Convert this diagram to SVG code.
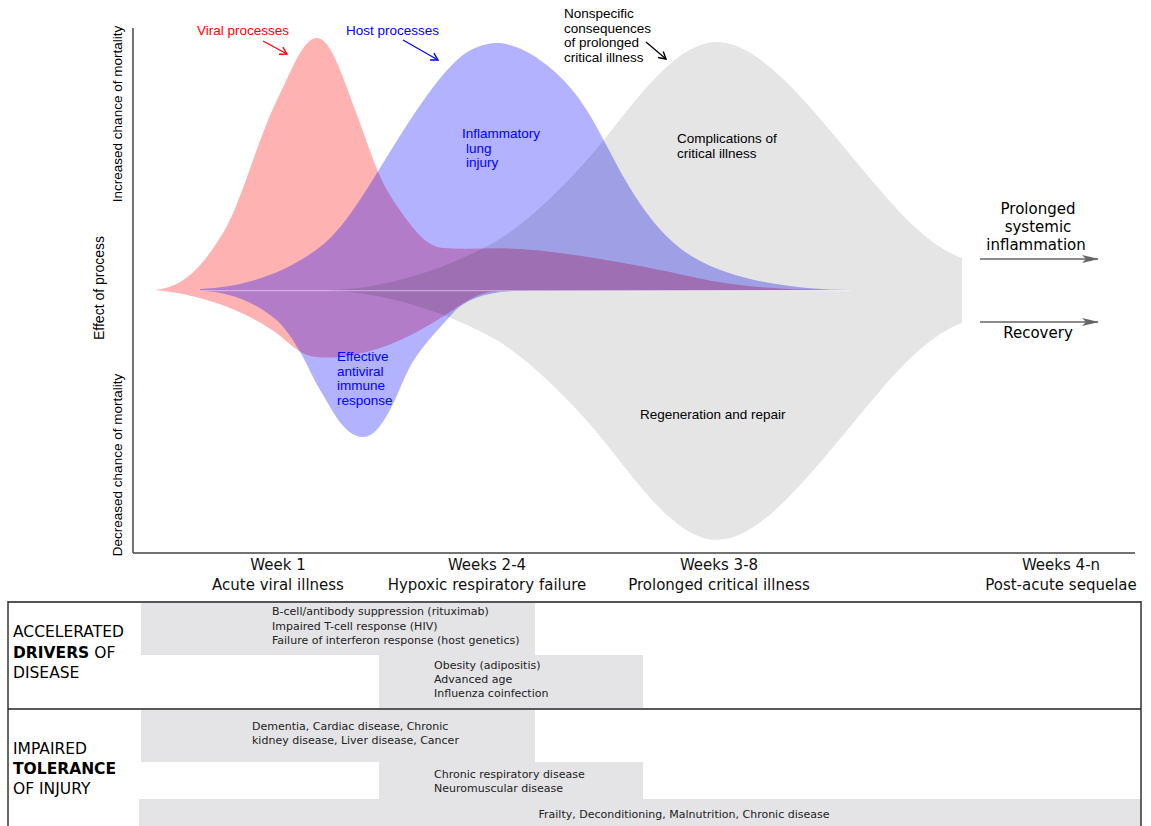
<svg xmlns="http://www.w3.org/2000/svg" width="1151" height="826" viewBox="0 0 1151 826">
<defs>
<marker id="vee-red" markerWidth="10" markerHeight="10" refX="8" refY="5" orient="auto" markerUnits="userSpaceOnUse"><path d="M1,1 L8,5 L1,9" fill="none" stroke="#ff0000" stroke-width="1.4"/></marker>
<marker id="vee-blue" markerWidth="10" markerHeight="10" refX="8" refY="5" orient="auto" markerUnits="userSpaceOnUse"><path d="M1,1 L8,5 L1,9" fill="none" stroke="#0000ff" stroke-width="1.4"/></marker>
<marker id="vee-black" markerWidth="10" markerHeight="10" refX="8" refY="5" orient="auto" markerUnits="userSpaceOnUse"><path d="M1,1 L8,5 L1,9" fill="none" stroke="#000" stroke-width="1.4"/></marker>
<marker id="tri-gray" markerWidth="18" markerHeight="10" refX="16" refY="5" orient="auto" markerUnits="userSpaceOnUse"><path d="M0,1 L17,5 L0,9 L4,5 Z" fill="#666"/></marker>
</defs>
<style>
.ann{font-family:"Liberation Sans",Arial,sans-serif;font-size:13.5px}
.ax{font-family:"DejaVu Sans",Verdana,sans-serif;font-size:15px;fill:#111}
.tb{font-family:"DejaVu Sans",Verdana,sans-serif;font-size:11px;fill:#222}
.lab{font-family:"DejaVu Sans",Verdana,sans-serif;font-size:15.5px;fill:#000}
.box{fill:#e4e4e6}
.axis{stroke:#444;stroke-width:1.5;fill:none}
</style>
<rect width="1151" height="826" fill="#fff"/>

<g id="viral-curve">
<path fill="#ff0000" fill-opacity="0.3" d="M153,290 C185,289 205,262 223,233 C241,204 258,138 277,100 C292,70 303,38 317,38 C331,38 343,78 357,115 C369,147 378,178 393,200 C410,225 425,247 443,248 C470,250 495,247 520,249 C560,251 640,265 693,277 C745,289 800,290 848,290 L500,291 C480,291 465,302 450,312 C430,325 405,340 380,348 C355,356 335,359 317,357 C300,356 290,343 275,332 C258,320 215,295 153,290 Z"/>
</g>
<g id="host-curve">
<path fill="#0000ff" fill-opacity="0.3" d="M200,289 C250,287 290,270 320,247 C342,230 360,200 377,173 C400,136 430,85 457,60 C470,48 485,43 497,43 C520,43 555,65 580,100 C597,124 612,158 627,183 C645,213 665,240 693,257 C735,282 800,290 850,290 L520,291 C490,291 466,298 453,313 C440,328 425,342 412,363 C400,383 385,437 363,437 C343,437 330,405 320,390 C312,376 308,366 303,357 C295,343 285,325 270,315 C250,300 225,291 200,291 Z"/>
</g>
<g id="critical-curve">
<path fill="#000" fill-opacity="0.1" d="M330,290 C380,289 440,272 493,243 C525,225 560,190 587,160 C625,118 670,42 717,42 C765,42 820,120 880,190 C910,225 935,248 962,258 L962,323 C935,333 910,356 880,391 C820,461 765,540 717,540 C670,540 625,463 587,421 C560,391 525,356 493,338 C440,309 380,292 330,291 Z"/>
</g>
<line x1="200" y1="290.6" x2="850" y2="290.6" stroke="#fff" stroke-opacity="0.4" stroke-width="1.2"/>

<g id="axes">
<line class="axis" x1="133" y1="28" x2="133" y2="553"/>
<line class="axis" x1="133" y1="553" x2="1135" y2="553"/>
<text class="ann" transform="translate(122,114) rotate(-90)" text-anchor="middle">Increased chance of mortality</text>
<text class="ann" transform="translate(104,288) rotate(-90)" text-anchor="middle" style="font-size:14px">Effect of process</text>
<text class="ann" transform="translate(122,465) rotate(-90)" text-anchor="middle">Decreased chance of mortality</text>
</g>

<g id="label-viral"><text class="ann" x="197" y="35" fill="#ff0000">Viral processes</text></g>
<g id="label-host"><text class="ann" x="346" y="35" fill="#0000ff">Host processes</text></g>
<g id="label-nonspecific"><text class="ann" fill="#000"><tspan x="564" y="18">Nonspecific</tspan><tspan x="564" y="32.5">consequences</tspan><tspan x="564" y="47">of prolonged</tspan><tspan x="564" y="61.5">critical illness</tspan></text></g>
<g id="label-inflammatory"><text class="ann" fill="#0000ff"><tspan x="462" y="138">Inflammatory</tspan><tspan x="466" y="152.5">lung</tspan><tspan x="466" y="167">injury</tspan></text></g>
<g id="label-complications"><text class="ann" fill="#000"><tspan x="677" y="143">Complications of</tspan><tspan x="677" y="157.5">critical illness</tspan></text></g>
<g id="label-antiviral"><text class="ann" fill="#0000ff"><tspan x="337" y="361">Effective</tspan><tspan x="337" y="375.5">antiviral</tspan><tspan x="337" y="390">immune</tspan><tspan x="337" y="404.5">response</tspan></text></g>
<g id="label-regeneration"><text class="ann" x="640" y="419" fill="#000">Regeneration and repair</text></g>
<g id="label-prolonged"><text class="lab" text-anchor="middle" style="font-size:15px"><tspan x="1038" y="214">Prolonged</tspan><tspan x="1038" y="232">systemic</tspan><tspan x="1036" y="250">inflammation</tspan></text></g>
<g id="label-recovery"><text class="lab" x="1038" y="338" text-anchor="middle" style="font-size:15px">Recovery</text></g>

<g id="connectors">
<line x1="263" y1="41" x2="287" y2="54" stroke="#ff0000" stroke-width="1.3" marker-end="url(#vee-red)"/>
<line x1="403" y1="40" x2="438" y2="60" stroke="#0000ff" stroke-width="1.3" marker-end="url(#vee-blue)"/>
<line x1="646" y1="42" x2="666" y2="59" stroke="#000" stroke-width="1.3" marker-end="url(#vee-black)"/>
<line x1="980" y1="259" x2="1098" y2="259" stroke="#666" stroke-width="1.5" marker-end="url(#tri-gray)"/>
<line x1="980" y1="322" x2="1098" y2="322" stroke="#666" stroke-width="1.5" marker-end="url(#tri-gray)"/>
</g>

<g id="timeline">
<text class="ax" text-anchor="middle"><tspan x="278" y="570">Week 1</tspan><tspan x="278" y="590">Acute viral illness</tspan></text>
<text class="ax" text-anchor="middle"><tspan x="487" y="570">Weeks 2-4</tspan><tspan x="487" y="590">Hypoxic respiratory failure</tspan></text>
<text class="ax" text-anchor="middle"><tspan x="719" y="570">Weeks 3-8</tspan><tspan x="719" y="590">Prolonged critical illness</tspan></text>
<text class="ax" text-anchor="middle"><tspan x="1061" y="570">Weeks 4-n</tspan><tspan x="1061" y="590">Post-acute sequelae</tspan></text>
</g>

<g id="table">
<rect id="box-immune" class="box" x="141" y="603" width="394" height="52"/>
<rect id="box-obesity" class="box" x="379" y="655" width="264" height="53"/>
<rect id="box-comorbid" class="box" x="141" y="710" width="394" height="52"/>
<rect id="box-respiratory" class="box" x="379" y="762" width="264" height="37"/>
<rect id="box-frailty" class="box" x="139" y="799" width="1002" height="27"/>
<line x1="8" y1="602" x2="1141" y2="602" stroke="#555" stroke-width="2"/>
<line x1="8" y1="601" x2="8" y2="826" stroke="#333" stroke-width="1.5"/>
<line x1="1141" y1="601" x2="1141" y2="826" stroke="#333" stroke-width="1.5"/>
<line x1="8" y1="709" x2="1141" y2="709" stroke="#222" stroke-width="1.5"/>
<text class="tb"><tspan x="272" y="615">B-cell/antibody suppression (rituximab)</tspan><tspan x="272" y="629.5">Impaired T-cell response (HIV)</tspan><tspan x="272" y="644">Failure of interferon response (host genetics)</tspan></text>
<text class="tb"><tspan x="434" y="669">Obesity (adipositis)</tspan><tspan x="434" y="683">Advanced age</tspan><tspan x="434" y="697">Influenza coinfection</tspan></text>
<text class="tb"><tspan x="252" y="730">Dementia, Cardiac disease, Chronic</tspan><tspan x="252" y="744">kidney disease, Liver disease, Cancer</tspan></text>
<text class="tb"><tspan x="434" y="778">Chronic respiratory disease</tspan><tspan x="434" y="792">Neuromuscular disease</tspan></text>
<text class="tb" x="684" y="818" text-anchor="middle">Frailty, Deconditioning, Malnutrition, Chronic disease</text>
<text class="lab"><tspan x="13" y="637">ACCELERATED</tspan><tspan x="13" y="657.5"><tspan font-weight="bold">DRIVERS</tspan> OF</tspan><tspan x="13" y="678">DISEASE</tspan></text>
<text class="lab"><tspan x="13" y="754">IMPAIRED</tspan><tspan x="13" y="774" font-weight="bold">TOLERANCE</tspan><tspan x="13" y="794">OF INJURY</tspan></text>
</g>
</svg>
